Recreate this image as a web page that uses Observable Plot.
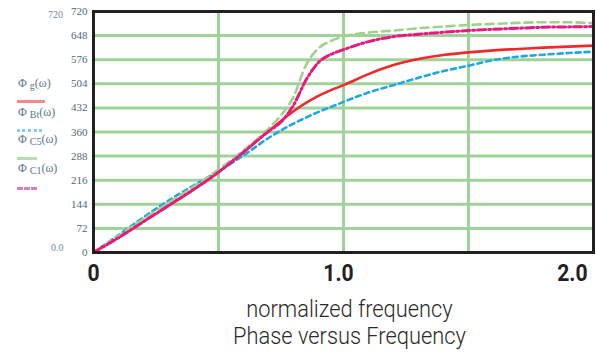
<!DOCTYPE html>
<html>
<head>
<meta charset="utf-8">
<script src="https://cdn.jsdelivr.net/npm/d3@7"></script>
<script src="https://cdn.jsdelivr.net/npm/@observablehq/plot@0.6"></script>
<style>
  html, body { margin: 0; padding: 0; background: #fff; }
  #wrap { position: relative; width: 596px; height: 356px; overflow: hidden; }
  .leg { position: absolute; font-family: "Liberation Serif", serif; font-size: 12px; color: #3d6078; opacity: 0.85; white-space: nowrap; }
  .leg sub { font-size: 10px; vertical-align: -2px; }
  .sw { position: absolute; height: 0; opacity: 0.55; }
  .side { position: absolute; font-family: "Liberation Serif", serif; font-size: 10px; color: #4f6f84; opacity: 0.8; }
</style>
</head>
<body>
<div id="wrap"></div>
<script>
// ---- data ----
const freq  = [0, 0.1, 0.2, 0.3, 0.4, 0.5, 0.6, 0.7, 0.75, 0.8, 0.85, 0.9, 0.95, 1.0, 1.1, 1.2, 1.3, 1.4, 1.5, 1.6, 1.7, 1.8, 1.9, 2.0];
const phiG  = [0, 45, 93, 140, 188, 240, 300, 362, 393, 422, 447, 468, 485, 500, 533, 560, 578, 590, 598, 604, 608, 612, 615, 618];
const phiBt = [0, 52, 105, 155, 200, 243, 290, 342, 365, 385, 403, 420, 435, 450, 478, 500, 522, 542, 558, 575, 585, 591, 596, 600];
const phiC5 = [0, 50, 100, 148, 196, 248, 305, 370, 410, 465, 560, 610, 632, 645, 657, 663, 670, 675, 680, 683, 686, 688, 688, 685];
const phiC1 = [0, 44, 92, 140, 188, 240, 300, 362, 390, 440, 515, 568, 592, 606, 630, 645, 652, 658, 663, 667, 670, 673, 674, 675];
const yTicks = [0, 72, 144, 216, 288, 360, 432, 504, 576, 648, 720];
const xGrid = [0.5, 1.0, 1.5];
const xTickLabels = ["0", "1.0", "2.0"];
const seriesNames = ["Φ g(ω)", "Φ Bt(ω)", "Φ C5(ω)", "Φ C1(ω)"];
const xLabel = "normalized frequency";
const title = "Phase versus Frequency";

const toRows = (arr) => freq.map((f, i) => ({f, v: arr[i]}));
const sans = "Roboto, 'Liberation Sans', sans-serif";

const chart = Plot.plot({
  width: 596,
  height: 356,
  marginTop: 11,
  marginBottom: 104,
  marginLeft: 93,
  marginRight: 3,
  x: {domain: [0, 2]},
  y: {domain: [0, 720]},
  style: {background: "#fff"},
  marks: [
    Plot.ruleY(yTicks.slice(1, -1), {stroke: "#9fd39a", strokeWidth: 3}),
    Plot.ruleX(xGrid, {stroke: "#9fd39a", strokeWidth: 3}),
    Plot.axisY({ticks: yTicks, tickSize: 0, tickPadding: 6, fontSize: 11, fontFamily: "'Liberation Serif', serif", fill: "#4a6a80", label: null, tickFormat: d => String(d)}),
    Plot.axisX({ticks: [0], tickSize: 0, tickPadding: 11, fontSize: 24, fontWeight: "bold", fontFamily: sans, fill: "#222", label: null, tickFormat: d => xTickLabels[d]}),
    Plot.axisX({ticks: [1], tickSize: 0, tickPadding: 11, fontSize: 24, fontWeight: "bold", fontFamily: sans, fill: "#222", label: null, dx: -5, tickFormat: d => xTickLabels[d]}),
    Plot.axisX({ticks: [2], tickSize: 0, tickPadding: 11, fontSize: 24, fontWeight: "bold", fontFamily: sans, fill: "#222", label: null, textAnchor: "end", dx: -6, tickFormat: d => xTickLabels[d]}),
    Plot.line(toRows(phiBt), {x: "f", y: "v", stroke: "#1ea8e8", strokeWidth: 2.6, strokeDasharray: "5,4", curve: "monotone-x"}),
    Plot.line(toRows(phiG), {x: "f", y: "v", stroke: "#ee2a2a", strokeWidth: 2.6, curve: "monotone-x"}),
    Plot.line(toRows(phiC5), {x: "f", y: "v", stroke: "#9fd38a", strokeWidth: 2.6, strokeDasharray: "8,5", curve: "monotone-x"}),
    Plot.line(toRows(phiC1), {x: "f", y: "v", stroke: "#e8197f", strokeWidth: 3, strokeDasharray: "8,3,2,3", curve: "monotone-x"}),
    Plot.frame({stroke: "#231f20", strokeWidth: 3}),
    Plot.text([xLabel], {text: d => d, frameAnchor: "bottom", dx: 6, dy: 64, fontSize: 24, fontWeight: 300, fontFamily: sans, fill: "#2a2a2a"}),
    Plot.text([title], {text: d => d, frameAnchor: "bottom", dx: 6, dy: 91, fontSize: 24, fontWeight: 300, fontFamily: sans, fill: "#2a2a2a"})
  ]
});
// condense text slightly (reference uses a condensed face)
chart.querySelectorAll('g[aria-label="x-axis tick label"] text').forEach(t => {
  t.setAttribute("transform", (t.getAttribute("transform") || "") + " scale(0.88,1)");
});
chart.querySelectorAll('g[aria-label="text"] text').forEach(t => {
  t.setAttribute("transform", (t.getAttribute("transform") || "") + " scale(0.91,1)");
});
const wrap = document.getElementById("wrap");
wrap.appendChild(chart);

// legend (left margin)
const legendStyles = [
  {top: 76, swTop: 100, swW: 28, border: "3px solid #ee2a2a"},
  {top: 105, swTop: 129, swW: 25, border: "3px dotted #1ea8e8"},
  {top: 132, swTop: 157, swW: 20, border: "3px solid #7cc46a"},
  {top: 161, swTop: 187, swW: 20, border: "3px dashed #c0178f"}
];
seriesNames.forEach((name, i) => {
  const s = legendStyles[i];
  const [phi, rest] = name.split(" ");
  const m = rest.match(/^(\w+)(\(ω\))$/);
  const lab = document.createElement("div");
  lab.className = "leg";
  lab.style.left = "18px";
  lab.style.top = s.top + "px";
  lab.innerHTML = phi + " <sub>" + m[1] + "</sub>" + m[2];
  wrap.appendChild(lab);
  const sw = document.createElement("div");
  sw.className = "sw";
  sw.style.left = "17px";
  sw.style.top = s.swTop + "px";
  sw.style.width = s.swW + "px";
  sw.style.borderTop = s.border;
  wrap.appendChild(sw);
});
[["720", 48, 9], ["0.0", 51, 242]].forEach(([t, l, tp]) => {
  const d = document.createElement("div");
  d.className = "side";
  d.textContent = t;
  d.style.left = l + "px";
  d.style.top = tp + "px";
  wrap.appendChild(d);
});
</script>
</body>
</html>
